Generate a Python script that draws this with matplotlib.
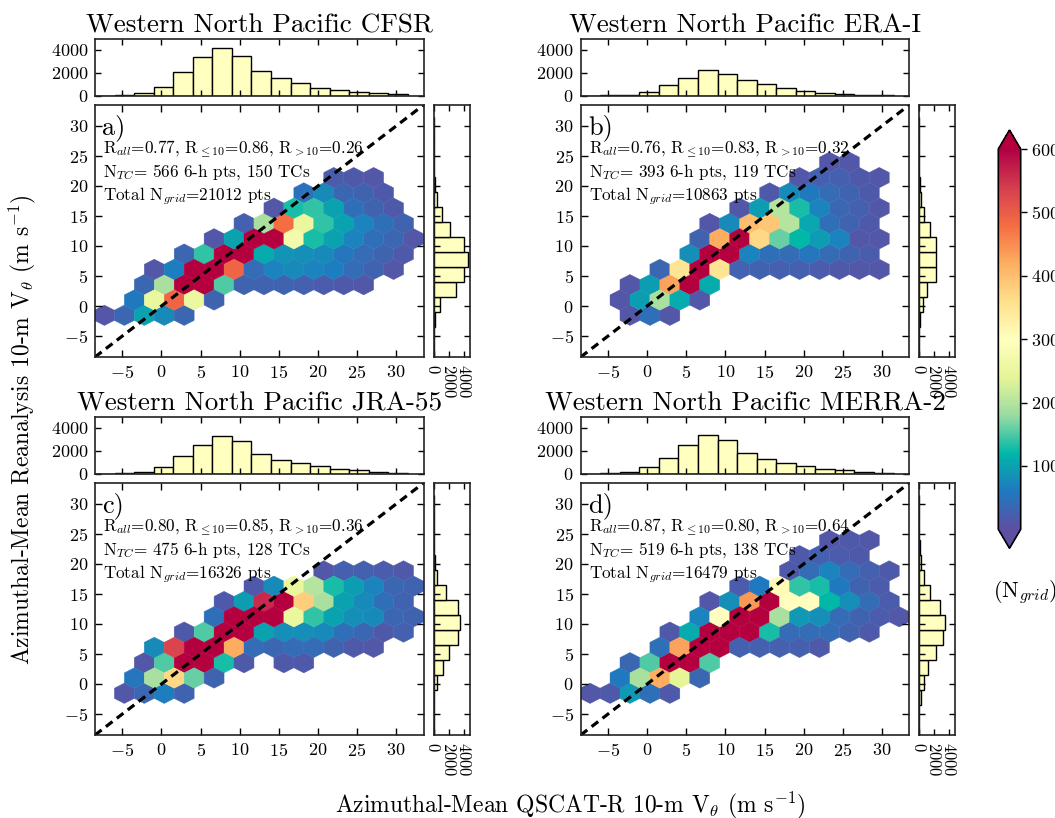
import numpy as np
import matplotlib
matplotlib.use("Agg")
import matplotlib.pyplot as plt
from matplotlib.colors import LinearSegmentedColormap

plt.rcParams['font.family'] = ['cmr10', 'DejaVu Serif']
plt.rcParams['mathtext.fontset'] = 'cm'
plt.rcParams['axes.formatter.use_mathtext'] = True
plt.rcParams['axes.unicode_minus'] = True

# ---------------- data ----------------
titles = ["Western North Pacific CFSR", "Western North Pacific ERA-I",
          "Western North Pacific JRA-55", "Western North Pacific MERRA-2"]
letters = ["a)", "b)", "c)", "d)"]
r_all = ["0.77", "0.76", "0.80", "0.87"]
r_le10 = ["0.86", "0.83", "0.85", "0.80"]
r_gt10 = ["0.26", "0.32", "0.36", "0.64"]
n_tc_pts = [566, 393, 475, 519]
n_tcs = [150, 119, 128, 138]
n_grid = [21012, 10863, 16326, 16479]

hist_edges = [-8.5, -6, -3.5, -1, 1.5, 4, 6.5, 9, 11.5, 14, 16.5, 19, 21.5, 24, 26.5, 29, 31.5]
# QSCAT (x) histograms
top_a = [10, 40, 240, 740, 2090, 3380, 4170, 3440, 2150, 1560, 1060, 680, 475, 330, 210, 120]
top_b = [10, 40, 80, 300, 900, 1500, 2200, 1900, 1400, 1000, 700, 450, 250, 150, 80, 40]
top_c = [10, 30, 150, 600, 1500, 2500, 3250, 2800, 1700, 1200, 900, 650, 450, 300, 180, 100]
top_d = [10, 30, 150, 600, 1350, 2500, 3350, 2900, 1800, 1250, 900, 650, 450, 300, 170, 80]
# reanalysis (y) histograms
right_a = [0, 40, 200, 900, 3000, 4100, 4600, 4100, 2200, 1100, 450, 200, 30, 0, 0, 0]
right_b = [0, 10, 120, 500, 1100, 2200, 2300, 2200, 1400, 650, 250, 100, 20, 0, 0, 0]
right_c = [0, 10, 60, 500, 1200, 2000, 3300, 3500, 3300, 1700, 500, 250, 20, 0, 0, 0]
right_d = [0, 10, 300, 600, 1200, 2300, 3200, 3400, 2800, 1500, 700, 300, 100, 0, 0, 0]

# hexagon cells: (row centre in y, first cell centre in x, counts left -> right; 0 = empty)
hex_dx = 2.55
hex_dy = 5.1
hex_a = [
    (-1.55, -7.3, [10, 35, 100, 75, 35]),
    (1.0, -3.475, [60, 250, 490, 255, 30]),
    (3.55, -2.2, [35, 190, 700, 700, 150, 30, 30, 30, 25, 20, 15, 12]),
    (6.1, -0.925, [12, 65, 700, 700, 490, 40, 70, 75, 70, 65, 40, 30, 12]),
    (8.65, 2.9, [35, 140, 700, 700, 110, 85, 80, 75, 55, 40, 30, 15]),
    (11.2, 6.725, [12, 100, 700, 700, 270, 130, 100, 70, 45, 35, 12]),
    (13.75, 10.55, [25, 190, 480, 250, 140, 100, 70, 45, 30]),
    (16.3, 14.375, [12, 130, 140, 100, 45, 30, 15]),
    (18.85, 18.2, [50, 75, 35, 30, 15]),
    (21.4, 22.025, [20, 15, 12]),
]
hex_b = [
    (-1.55, -2.2, [12, 45, 12]),
    (1.0, -3.475, [10, 95, 190, 110, 12]),
    (3.55, -2.2, [10, 95, 430, 650, 110]),
    (6.1, 1.625, [35, 350, 700, 350, 28, 30, 25, 25, 20, 15, 12, 10]),
    (8.65, 5.45, [80, 700, 700, 70, 45, 40, 55, 40, 30, 20]),
    (11.2, 6.725, [30, 420, 700, 370, 160, 120, 95, 70, 12, 10]),
    (13.75, 8.0, [12, 75, 400, 390, 200, 105, 45, 30, 15]),
    (16.3, 11.825, [12, 95, 200, 130, 70, 35, 25, 12]),
    (18.85, 15.65, [15, 75, 60, 40, 30, 15]),
    (21.4, 19.475, [12, 25, 25, 15, 12]),
    (23.95, 23.3, [10, 10]),
]
hex_c = [
    (-1.55, -4.75, [12, 35, 65, 30]),
    (1.0, -3.475, [55, 190, 370, 160, 30]),
    (3.55, -2.2, [12, 150, 700, 700, 130, 15, 0, 15, 15]),
    (6.1, -0.925, [75, 530, 700, 700, 420, 40, 35, 40, 40, 30, 15, 12]),
    (8.65, 2.9, [15, 150, 700, 700, 100, 80, 80, 75, 45, 35, 15, 25]),
    (11.2, 6.725, [45, 700, 700, 700, 250, 140, 100, 80, 75, 35, 30]),
    (13.75, 8.0, [15, 95, 560, 700, 380, 190, 100, 75, 45, 30]),
    (16.3, 11.825, [15, 75, 250, 200, 130, 95, 70, 35, 30]),
    (18.85, 18.2, [0, 12, 25, 25, 20, 15]),
]
hex_d = [
    (-1.55, -7.3, [12, 15, 90, 45, 15]),
    (1.0, -3.475, [60, 190, 420, 240, 35]),
    (3.55, -2.2, [35, 150, 700, 700, 150]),
    (6.1, 1.625, [45, 430, 700, 700, 25, 25, 25, 25, 15]),
    (8.65, 2.9, [15, 110, 700, 700, 700, 130, 40, 40, 40, 30, 15]),
    (11.2, 6.725, [70, 300, 700, 700, 190, 90, 80, 40, 30, 20, 12, 10]),
    (13.75, 8.0, [12, 80, 440, 700, 300, 300, 120, 80, 40, 20]),
    (16.3, 11.825, [20, 60, 310, 140, 130, 60, 30, 20]),
    (18.85, 17.0, [15, 40, 70, 40, 25, 15]),
    (21.4, 19.475, [15, 25, 20, 15]),
    (23.95, 23.3, [12, 15, 12]),
]
panels = [
    (hex_a, top_a, right_a),
    (hex_b, top_b, right_b),
    (hex_c, top_c, right_c),
    (hex_d, top_d, right_d),
]
cbar_ticks = [100, 200, 300, 400, 500, 600]

# ---------------- style ----------------
cmap = LinearSegmentedColormap.from_list("spec", [
    (0.00, "#5e4fa2"), (0.10, "#1f7ac0"), (0.20, "#00b8a8"), (0.30, "#9cdba2"),
    (0.40, "#e6f598"), (0.50, "#ffffbf"), (0.60, "#fee08b"), (0.70, "#fdae61"),
    (0.80, "#f46d43"), (0.90, "#d53e4f"), (1.00, "#b00045")])
cmap.set_over("#b5003f")
cmap.set_under("#5e4fa2")
HIST_FC = "#ffffc0"
W, H = 1055, 818
fig = plt.figure(figsize=(W / 100, H / 100), dpi=100)


def add_px(left, top, right, bottom):
    return fig.add_axes([left / W, 1 - bottom / H, (right - left) / W, (bottom - top) / H])


def style(ax, size=13):
    ax.tick_params(direction='in', top=True, right=True, length=5, width=1,
                   labelsize=size, pad=5)
    for s in ax.spines.values():
        s.set_linewidth(1.2)
        s.set_color('#222222')


mappable = None
for i, (cells, topc, rightc) in enumerate(panels):
    col, row = i % 2, i // 2
    left = [95, 580.7][col]
    right = left + 328.5
    top = [105, 483][row]
    bottom = top + 252
    ax = add_px(left, top, right, bottom)
    axt = add_px(left, top - 65.7, right, top - 9.3)
    axr = add_px(right + 10, top, right + 46, bottom)

    xs, ys, cs = [], [], []
    for yc, x0, counts in cells:
        for k, c in enumerate(counts):
            if c > 0:
                xs.append(x0 + k * hex_dx)
                ys.append(yc)
                cs.append(c)
    xmin = xs[0] - 12 * hex_dx
    ymin = ys[0] - 6 * hex_dy
    ext = (xmin, xmin + 30 * hex_dx, ymin, ymin + 15 * hex_dy)
    mappable = ax.hexbin(xs, ys, C=cs, gridsize=(30, 15), extent=ext,
                         reduce_C_function=np.sum, cmap=cmap, vmin=0, vmax=600,
                         edgecolors='face', linewidths=0.3)
    ax.axline((0, 0), (1, 1), color='k', lw=2.3, ls=(0, (2.6, 1.7)))
    ax.set_xlim(-8.5, 33.5)
    ax.set_ylim(-8.5, 33.5)
    ax.set_xticks([-5, 0, 5, 10, 15, 20, 25, 30])
    ax.set_yticks([-5, 0, 5, 10, 15, 20, 25, 30])
    style(ax)

    ax.text(0.022, 0.965, letters[i], transform=ax.transAxes, fontsize=19,
            va='top', ha='left')
    ax.text(0.025, 0.808,
            r"$\mathrm{R}_{all}$=%s, $\mathrm{R}_{{\leq}10}$=%s, $\mathrm{R}_{{>}10}$=%s"
            % (r_all[i], r_le10[i], r_gt10[i]),
            transform=ax.transAxes, fontsize=12.3, va='baseline')
    ax.text(0.025, 0.716, r"$\mathrm{N}_{TC}$= %d 6-h pts, %d TCs" % (n_tc_pts[i], n_tcs[i]),
            transform=ax.transAxes, fontsize=12.3, va='baseline')
    ax.text(0.025, 0.622, r"Total $\mathrm{N}_{grid}$=%d pts" % n_grid[i],
            transform=ax.transAxes, fontsize=12.3, va='baseline')

    axt.bar(hist_edges[:-1], topc, width=np.diff(hist_edges), align='edge',
            color=HIST_FC, edgecolor='k', linewidth=1.0)
    axt.set_xlim(-8.5, 33.5)
    axt.set_ylim(0, 4900)
    axt.set_yticks([0, 2000, 4000])
    axt.set_xticks([-5, 0, 5, 10, 15, 20, 25, 30])
    style(axt)
    axt.tick_params(labelbottom=False, length=4)
    axt.set_title(titles[i], fontsize=19.5, pad=5)

    axr.barh(hist_edges[:-1], rightc, height=np.diff(hist_edges), align='edge',
             color=HIST_FC, edgecolor='k', linewidth=1.0)
    axr.set_ylim(-8.5, 33.5)
    axr.set_xlim(0, 4800)
    axr.set_xticks([0, 2000, 4000])
    axr.set_yticks([-5, 0, 5, 10, 15, 20, 25, 30])
    style(axr)
    axr.tick_params(labelleft=False, length=4, labelsize=12)
    for lab in axr.get_xticklabels():
        lab.set_rotation(-90)

cax = add_px(998.3, 130, 1020.7, 548.3)
cb = fig.colorbar(mappable, cax=cax, extend='both', extendfrac=0.05, ticks=cbar_ticks)
cb.outline.set_linewidth(1.2)
cax.tick_params(labelsize=13, length=4, width=1)
fig.text(1025 / W, 1 - 592 / H, r"($\mathrm{N}_{grid}$)", fontsize=16, ha='center', va='center')

fig.text(22 / W, 1 - 430 / H,
         r"Azimuthal-Mean Reanalysis 10-m $\mathrm{V}_{\theta}$ (m s$^{-1}$)",
         rotation=90, fontsize=17, ha='center', va='center')
fig.text(570 / W, 1 - 805 / H,
         r"Azimuthal-Mean QSCAT-R 10-m $\mathrm{V}_{\theta}$ (m s$^{-1}$)",
         fontsize=17, ha='center', va='center')

fig.savefig("out.png", dpi=100)
